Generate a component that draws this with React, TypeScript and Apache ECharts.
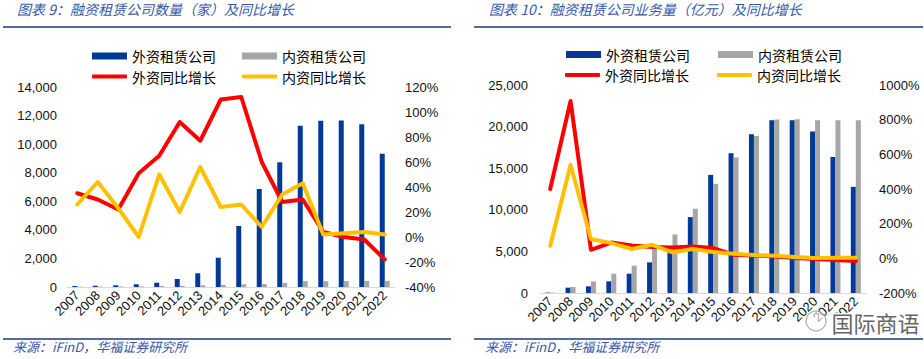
import React, { useEffect, useRef } from "react";
import * as echarts from "echarts";

const years = ["2007", "2008", "2009", "2010", "2011", "2012", "2013", "2014", "2015", "2016", "2017", "2018", "2019", "2020", "2021", "2022"];

// Chart 9: number of leasing companies
const countForeign = [70, 90, 120, 190, 300, 560, 960, 2050, 4270, 6860, 8730, 11290, 11640, 11650, 11390, 9330];
const countDomestic = [25, 32, 40, 45, 66, 80, 123, 152, 190, 204, 290, 410, 403, 414, 428, 430];
const countGrowthForeign = [35, 30, 22, 51, 65, 92, 77, 110, 112, 60, 28, 30, 4, 0, -2, -18];
const countGrowthDomestic = [26, 44, 23, 0, 50, 20, 56, 24, 26, 8, 34, 43, 2, 3, 4, 2];

// Chart 10: business volume (亿元)
const volForeign = [50, 640, 800, 1400, 2320, 3680, 5100, 9120, 14200, 16800, 19080, 20760, 20760, 19400, 16360, 12760];
const volDomestic = [50, 720, 1400, 2320, 3280, 5400, 7040, 10120, 13120, 16280, 18880, 20840, 20880, 20760, 20760, 20760];
const volGrowthForeign = [400, 908, 49, 91, 74, 65, 63, 68, 59, 21, 17, 11, 2, -4, -10, -16];
const volGrowthDomestic = [72, 539, 111, 88, 54, 78, 34, 54, 36, 26, 19, 15, 7, 2, 3, 3];

const NAME_FB = "外资租赁公司";
const NAME_DB = "内资租赁公司";
const NAME_FG = "外资同比增长";
const NAME_DG = "内资同比增长";

const BLUE = "#003A96";
const GRAY = "#A6A6A6";
const RED = "#FF0000";
const YELLOW = "#FFC000";
const NAVY = "#1F3A78";
const TITLE_BLUE = "#3A58A8";

const CJK = '"Noto Sans CJK SC", sans-serif';
const LAT = '"Liberation Sans", Arial, sans-serif';

function legendItem(name: string, left: number, cy: number, isLine: boolean) {
  const h = isLine ? 4 : 7;
  return {
    left,
    top: cy - 7,
    padding: 0,
    selectedMode: false,
    itemWidth: 35,
    itemHeight: h,
    itemGap: 0,
    data: [{ name, icon: isLine ? "roundRect" : "rect" }],
    textStyle: { fontFamily: CJK, fontSize: 14, lineHeight: 14, color: "#000", padding: [0, 0, 0, 0] },
  };
}

export default function App() {
  const ref = useRef<HTMLDivElement>(null);
  useEffect(() => {
    if (!ref.current) return;
    const chart = echarts.init(ref.current, undefined, { renderer: "svg" });
    const xAxisBase = (gridIndex: number) => ({
      type: "category",
      gridIndex,
      data: years,
      boundaryGap: true,
      axisLine: { show: true, lineStyle: { color: "#D9D9D9", width: 1 } },
      axisTick: { show: false },
      axisLabel: { rotate: 45, interval: 0, fontSize: 13, fontFamily: LAT, color: "#111", margin: 6 },
      splitLine: { show: false },
    });
    const yBase = (gridIndex: number, min: number, max: number, interval: number, pct: boolean, margin: number, pos: string) => ({
      type: "value",
      gridIndex,
      position: pos,
      min,
      max,
      interval,
      axisLine: { show: false },
      axisTick: { show: false },
      splitLine: { show: false },
      axisLabel: {
        fontSize: 13,
        fontFamily: LAT,
        color: "#111",
        margin,
        formatter: pct ? (v: number) => v + "%" : (v: number) => v.toLocaleString("en-US"),
      },
    });
    const lineSeries = (name: string, data: number[], color: string, xi: number, yi: number) => ({
      name,
      type: "line",
      xAxisIndex: xi,
      yAxisIndex: yi,
      data,
      symbol: "none",
      itemStyle: { color },
      lineStyle: { color, width: 4, cap: "round", join: "round" },
      z: 3,
    });
    const barSeries = (name: string, data: number[], color: string, xi: number, yi: number, bw: number) => ({
      name,
      type: "bar",
      xAxisIndex: xi,
      yAxisIndex: yi,
      data,
      barWidth: bw,
      barGap: "0%",
      itemStyle: { color },
      z: 2,
    });
    const option: any = {
      animation: false,
      backgroundColor: "#fff",
      grid: [
        { left: 67, top: 87, width: 328, height: 200, containLabel: false },
        { left: 540, top: 85, width: 326, height: 208, containLabel: false },
      ],
      xAxis: [xAxisBase(0), xAxisBase(1)],
      yAxis: [
        yBase(0, 0, 14000, 2000, false, 10, "left"),
        yBase(0, -40, 120, 20, true, 10, "right"),
        yBase(1, 0, 25000, 5000, false, 12, "left"),
        yBase(1, -200, 1000, 200, true, 13, "right"),
      ],
      legend: [
        legendItem(NAME_FB, 92, 56, false),
        legendItem(NAME_DB, 242, 56, false),
        legendItem(NAME_FG, 92, 76.5, true),
        legendItem(NAME_DG, 242, 76.5, true),
        legendItem(NAME_FB, 566, 54.5, false),
        legendItem(NAME_DB, 718, 54.5, false),
        legendItem(NAME_FG, 565, 75, true),
        legendItem(NAME_DG, 717, 75, true),
      ],
      series: [
        barSeries(NAME_FB, countForeign, BLUE, 0, 0, 5),
        barSeries(NAME_DB, countDomestic, GRAY, 0, 0, 5),
        lineSeries(NAME_FG, countGrowthForeign, RED, 0, 1),
        lineSeries(NAME_DG, countGrowthDomestic, YELLOW, 0, 1),
        barSeries(NAME_FB, volForeign, BLUE, 1, 2, 5),
        barSeries(NAME_DB, volDomestic, GRAY, 1, 2, 5),
        lineSeries(NAME_FG, volGrowthForeign, RED, 1, 3),
        lineSeries(NAME_DG, volGrowthDomestic, YELLOW, 1, 3),
      ],
      graphic: [
        {
          type: "text",
          left: 17,
          top: 2,
          style: { text: "图表 9：融资租赁公司数量（家）及同比增长", fill: TITLE_BLUE, font: "italic 14px " + CJK },
        },
        {
          type: "text",
          left: 489,
          top: 2,
          style: { text: "图表 10：融资租赁公司业务量（亿元）及同比增长", fill: TITLE_BLUE, font: "italic 14px " + CJK },
        },
        { type: "line", shape: { x1: 3, y1: 27, x2: 451, y2: 27 }, style: { stroke: NAVY, lineWidth: 1.5 } },
        { type: "line", shape: { x1: 474, y1: 27, x2: 923, y2: 27 }, style: { stroke: NAVY, lineWidth: 1.5 } },
        { type: "line", shape: { x1: 3, y1: 339, x2: 451, y2: 339 }, style: { stroke: NAVY, lineWidth: 1.5 } },
        { type: "line", shape: { x1: 474, y1: 339, x2: 923, y2: 339 }, style: { stroke: NAVY, lineWidth: 1.5 } },
        {
          type: "text",
          left: 13,
          top: 340,
          style: { text: "来源：iFinD，华福证券研究所", fill: TITLE_BLUE, font: "italic 13px " + CJK },
        },
        {
          type: "text",
          left: 485,
          top: 340,
          style: { text: "来源：iFinD，华福证券研究所", fill: TITLE_BLUE, font: "italic 13px " + CJK },
        },
        {
          type: "circle",
          shape: { cx: 816, cy: 321, r: 10 },
          style: { fill: "rgba(255,255,255,0.6)", stroke: "#999", lineWidth: 1 },
          z: 100,
        },
        {
          type: "text",
          left: 830,
          top: 309,
          z: 100,
          style: { text: "国际商语", fill: "#666", stroke: "#fff", lineWidth: 3, font: "22px " + CJK },
        },
      ],
    };
    chart.setOption(option);
    return () => chart.dispose();
  }, []);
  return (
    <div
      ref={ref}
      style={{ position: "fixed", left: 0, top: 0, width: 924, height: 359, background: "#fff" }}
    />
  );
}
